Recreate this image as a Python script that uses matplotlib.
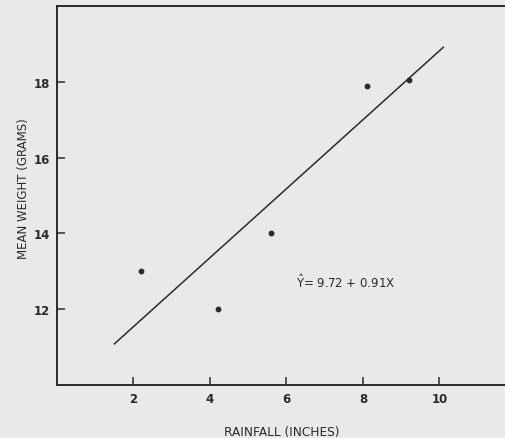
#! /usr/bin/env python3

"""Mean weight against rainfall, with the fitted regression line."""

import matplotlib
matplotlib.use('Agg')
import matplotlib.pyplot as plt
import numpy as np

rainfall = [2.2, 4.2, 5.6, 8.1, 9.2]
mean_weight = [13.0, 12.0, 14.0, 17.9, 18.05]

# fitted line Y = a + b X, drawn over this range of X
intercept = 9.72
slope = 0.91
fit_range = [1.5, 10.1]

x_ticks = [2, 4, 6, 8, 10]
y_ticks = [12, 14, 16, 18]

BG = '#e9eae8'
INK = '#2a2a2a'


def main():
    """Plot and save the graph."""
    fig = plt.figure(figsize=(5.06, 4.39), dpi=100, facecolor=BG)
    ax = fig.add_axes([57 / 506, 1 - 386 / 439, 449 / 506, (386 - 7) / 439])
    ax.set_facecolor(BG)

    ax.set_xlim(0, 449 / 38.25)
    ax.set_ylim(10, 20)

    # regression line
    xs = np.array(fit_range)
    ax.plot(xs, intercept + slope * xs, color=INK, lw=1.1)

    # data points
    ax.plot(rainfall, mean_weight, 'o', color=INK, ms=3.2)

    ax.text(6.25, 12.75, r'$\hat{\mathrm{Y}}$= 9.72 + 0.91X',
            fontsize=8.5, color=INK, va='center', ha='left')

    for side in ('left', 'bottom', 'top'):
        ax.spines[side].set_linewidth(1.4)
        ax.spines[side].set_color(INK)
    ax.spines['right'].set_visible(False)

    ax.set_xticks(x_ticks)
    ax.set_yticks(y_ticks)
    ax.tick_params(direction='in', length=6, width=1.1, color=INK,
                   labelsize=8.5, labelcolor=INK, pad=5)
    for lab in ax.get_xticklabels() + ax.get_yticklabels():
        lab.set_fontweight('bold')

    ax.set_xlabel('RAINFALL (INCHES)', fontsize=8.7, color=INK)
    ax.xaxis.set_label_coords(0.5, -0.105)
    ax.set_ylabel('MEAN WEIGHT (GRAMS)', fontsize=8.5, color=INK,
                  va='center')
    ax.yaxis.set_label_coords(-0.0757, 0.522)

    fig.savefig('out.png', dpi=100, facecolor=BG)


if __name__ == "__main__":
    main()
